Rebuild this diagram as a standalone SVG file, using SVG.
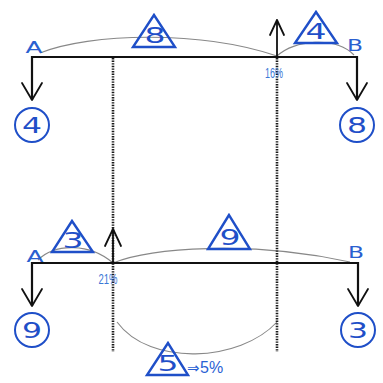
<svg xmlns="http://www.w3.org/2000/svg" width="383" height="383" viewBox="0 0 383 383">
<style>
.beam{stroke:#111;stroke-width:2.2;fill:none}
.arr{stroke:#111;stroke-width:1.8;fill:none;stroke-linecap:round;stroke-linejoin:round}
.dot{stroke:#1a1a1a;stroke-width:2.6;stroke-dasharray:1.4 1.2;fill:none}
.curve{stroke:#888;stroke-width:1.1;fill:none}
.tri{stroke:#1f4fc8;stroke-width:2.4;fill:none;stroke-linejoin:miter}
.circ{stroke:#1f4fc8;stroke-width:2;fill:none}
.num{font-family:"DejaVu Sans",sans-serif;fill:#1f4fc8;text-anchor:middle;font-weight:normal}
.lab{font-family:"DejaVu Sans",sans-serif;fill:#2a5fd0;text-anchor:middle}
.pct{font-family:"Liberation Sans Narrow","Liberation Sans",sans-serif;fill:#3b78d6;text-anchor:middle}
</style>
<rect width="383" height="383" fill="#fff"/>
<g id="connectors">
<path class="curve" d="M40,53 C90,33 200,30 277,56"/>
<path class="curve" d="M277,56 C295,40 335,36 354,55"/>
<path class="curve" d="M38,260 C55,243 90,243 113,263"/>
<path class="curve" d="M113,263 C150,248 250,240 350,262"/>
<path class="curve" d="M117,322 C150,367 240,362 277,322"/>
<path class="dot" d="M113,58 V352"/>
<path class="dot" d="M277,58 V352"/>
<path class="beam" d="M32,100 V57 H357 V100"/>
<path class="beam" d="M32,306 V263 H358 V306"/>
<path class="arr" d="M22,83 L32,100 L42,83"/>
<path class="arr" d="M347,83 L357,100 L367,83"/>
<path class="arr" d="M22,289 L32,306 L42,289"/>
<path class="arr" d="M348,289 L358,306 L368,289"/>
<path class="arr" d="M277,57 V20 M270,35 L277,20 L284,35"/>
<path class="arr" d="M113,263 V229 M105,246 L113,229 L121,246"/>
</g>
<g id="labelA1"><text class="lab" x="34" y="53" font-size="15" textLength="17" lengthAdjust="spacingAndGlyphs">A</text></g>
<g id="labelB1"><text class="lab" x="355" y="51" font-size="16" textLength="16" lengthAdjust="spacingAndGlyphs">B</text></g>
<g id="labelA2"><text class="lab" x="35" y="262" font-size="16" textLength="17" lengthAdjust="spacingAndGlyphs">A</text></g>
<g id="labelB2"><text class="lab" x="356" y="258" font-size="15" textLength="16" lengthAdjust="spacingAndGlyphs">B</text></g>
<g id="tri8">
<path class="tri" d="M154,15 L133,47 L175,47 Z"/>
<text class="num" x="155" y="43" font-size="21" textLength="21" lengthAdjust="spacingAndGlyphs">8</text>
</g>
<g id="tri4">
<path class="tri" d="M316,12 L295,43 L337,43 Z"/>
<text class="num" x="316" y="39" font-size="21" textLength="21" lengthAdjust="spacingAndGlyphs">4</text>
</g>
<g id="tri3">
<path class="tri" d="M72,221 L52,252 L93,252 Z"/>
<text class="num" x="73" y="248" font-size="21" textLength="21" lengthAdjust="spacingAndGlyphs">3</text>
</g>
<g id="tri9">
<path class="tri" d="M229,215 L208,249 L250,249 Z"/>
<text class="num" x="230" y="245" font-size="21" textLength="21" lengthAdjust="spacingAndGlyphs">9</text>
</g>
<g id="tri5">
<path class="tri" d="M168,343 L147,375 L188,375 Z"/>
<text class="num" x="168" y="371" font-size="21" textLength="21" lengthAdjust="spacingAndGlyphs">5</text>
</g>
<g id="circ4">
<circle class="circ" cx="32" cy="125" r="17"/>
<text class="num" x="32" y="133" font-size="22" textLength="20" lengthAdjust="spacingAndGlyphs">4</text>
</g>
<g id="circ8">
<circle class="circ" cx="357" cy="125" r="17"/>
<text class="num" x="357" y="133" font-size="22" textLength="20" lengthAdjust="spacingAndGlyphs">8</text>
</g>
<g id="circ9">
<circle class="circ" cx="32" cy="330" r="17"/>
<text class="num" x="32" y="338" font-size="22" textLength="20" lengthAdjust="spacingAndGlyphs">9</text>
</g>
<g id="circ3">
<circle class="circ" cx="358" cy="330" r="17"/>
<text class="num" x="358" y="338" font-size="22" textLength="20" lengthAdjust="spacingAndGlyphs">3</text>
</g>
<g id="pct16"><text class="pct" x="274" y="78" font-size="14" textLength="18" lengthAdjust="spacingAndGlyphs">16%</text></g>
<g id="pct21"><text class="pct" x="108" y="284" font-size="14" textLength="19" lengthAdjust="spacingAndGlyphs">21%</text></g>
<g id="pct5"><text x="187" y="373" font-family="'DejaVu Sans',sans-serif" font-size="15" fill="#2a62d4">⇒<tspan x="200" font-family="'Liberation Sans',sans-serif" font-size="16">5%</tspan></text></g>
</svg>
